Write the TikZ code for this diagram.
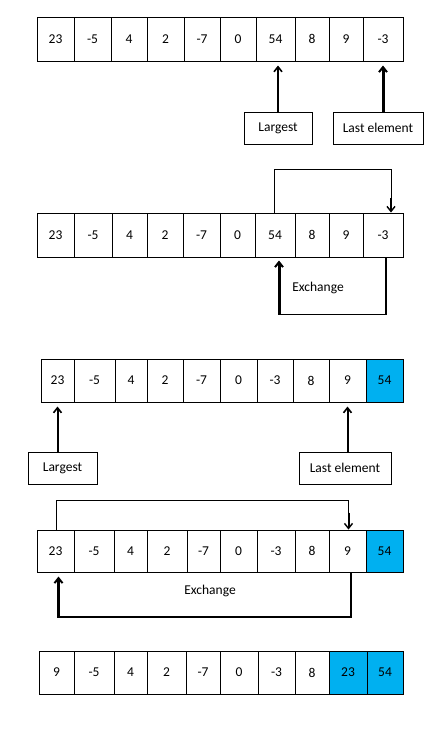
\documentclass[tikz,border=0pt]{standalone}
\usepackage{fontspec}
\setmainfont{Carlito}
\usetikzlibrary{arrows.meta}
\definecolor{sel}{HTML}{00B0F0}
\tikzset{
  cell/.style={draw=black, line width=1pt, inner sep=0pt, font=\fontsize{13.5}{16}\selectfont},
  lbl/.style={draw=black, line width=1pt, inner sep=0pt, font=\fontsize{13.5}{16}\selectfont},
  txt/.style={inner sep=0pt, font=\fontsize{13.5}{16}\selectfont},
  arr/.style={line width=2pt, -{Straight Barb[length=5pt,width=8pt,line width=1.6pt]}},
  arrthick/.style={line width=3pt, -{Straight Barb[length=5pt,width=8pt,line width=2pt]}},
  link/.style={line width=1pt},
}
\begin{document}
\begin{tikzpicture}[x=1pt,y=-1pt]
\useasboundingbox (0,0) rectangle (439,729);
% Row 1
\foreach \i/\l/\r/\t/\f in {1/37/74/23/white,2/74/111/-5/white,3/111/147/4/white,4/147/184/2/white,5/184/220/-7/white,6/220/256/0/white,7/256/295/54/white,8/295/329/8/white,9/329/363/9/white,10/363/403/-3/white}
  \node[cell, fill=\f, minimum width={(\r-\l)*1pt}, minimum height=44pt] (a\i) at ({(\l+\r)/2},39) {\t};
\node[lbl, minimum width=68pt, minimum height=32pt] (L1) at (278,128) {Largest};
\node[lbl, minimum width=90pt, minimum height=32pt] (E1) at (378,128) {Last element};
\draw[arr] (L1.north) -- ([yshift=-4pt]L1.north |- a7.south);
\draw[arrthick] (E1.north -| a10) -- ([yshift=-4pt]a10.south);
% Row 2
\foreach \i/\l/\r/\t/\f in {1/37/74/23/white,2/74/112/-5/white,3/112/147/4/white,4/147/183/2/white,5/183/220/-7/white,6/220/255/0/white,7/255/295/54/white,8/295/329/8/white,9/329/363/9/white,10/363/403/-3/white}
  \node[cell, fill=\f, minimum width={(\r-\l)*1pt}, minimum height=44pt] (b\i) at ({(\l+\r)/2},235) {\t};
\coordinate (b7top) at ([xshift=-1pt]b7.north);
\coordinate (b10in) at ([xshift=8pt]b10.north);
\draw[link] (b7top) -- ++(0,-43) -| ([yshift=14pt]b10in);
\draw[line width=2pt, -{Straight Barb[length=5pt,width=8pt,line width=1.4pt]}] ([yshift=15pt]b10in) -- (b10in);
\coordinate (b10out) at ([xshift=3pt]b10.south);
\coordinate (b7in) at ([xshift=4pt,yshift=-3pt]b7.south);
\draw[link, line width=1.5pt] (b10out) -- ++(0,57) -| ([yshift=-53pt]b7in);
\draw[arrthick] ([yshift=-54pt]b7in) -- (b7in);
\node[txt] (x1) at (318,288) {Exchange};
% Row 3
\foreach \i/\l/\r/\t/\f in {1/41/74/23/white,2/74/115/-5/white,3/115/147/4/white,4/147/183/2/white,5/183/220/-7/white,6/220/257/0/white,7/257/293/-3/white,8/293/329/8/white,9/329/366/9/white,10/366/403/54/sel}
  \node[cell, fill=\f, minimum width={(\r-\l)*1pt}, minimum height=43pt] (c\i) at ({(\l+\r)/2},380.5) {\t};
\node[lbl, minimum width=69pt, minimum height=32pt] (L3) at (62.5,468) {Largest};
\node[lbl, minimum width=92pt, minimum height=32pt] (E3) at (345,468) {Last element};
\draw[arr] (L3.north -| c1) -- ([yshift=-4pt]c1.south);
\draw[arr] (E3.north -| c9) -- ([yshift=-4pt]c9.south);
% Row 4
\foreach \i/\l/\r/\t/\f in {1/37/74/23/white,2/74/114/-5/white,3/114/147/4/white,4/147/187/2/white,5/187/220/-7/white,6/220/257/0/white,7/257/295/-3/white,8/295/329/8/white,9/329/366/9/white,10/366/403/54/sel}
  \node[cell, fill=\f, minimum width={(\r-\l)*1pt}, minimum height=42pt] (d\i) at ({(\l+\r)/2},551) {\t};
\coordinate (d1top) at ([xshift=1pt]d1.north);
\coordinate (d9in) at ([xshift=1pt]d9.north);
\draw[link] (d1top) -- ++(0,-29) -| ([yshift=16pt]d9in);
\draw[line width=2pt, -{Straight Barb[length=5pt,width=8pt,line width=1.4pt]}] ([yshift=17pt]d9in) -- (d9in);
\coordinate (d9out) at ([xshift=3.5pt]d9.south);
\coordinate (d1in) at ([xshift=3pt,yshift=-4pt]d1.south);
\draw[link, line width=1.5pt] (d9out) -- ++(0,44.5) -| ([yshift=-40pt]d1in);
\draw[arrthick] ([yshift=-41pt]d1in) -- (d1in);
\node[txt] (x2) at (210,591) {Exchange};
% Row 5
\foreach \i/\l/\r/\t/\f in {1/39/74/9/white,2/74/114/-5/white,3/114/147/4/white,4/147/186/2/white,5/186/220/-7/white,6/220/258/0/white,7/258/295/-3/white,8/295/329/8/white,9/329/367/23/sel,10/367/403/54/sel}
  \node[cell, fill=\f, minimum width={(\r-\l)*1pt}, minimum height=43pt] (e\i) at ({(\l+\r)/2},672.5) {\t};
\end{tikzpicture}
\end{document}
